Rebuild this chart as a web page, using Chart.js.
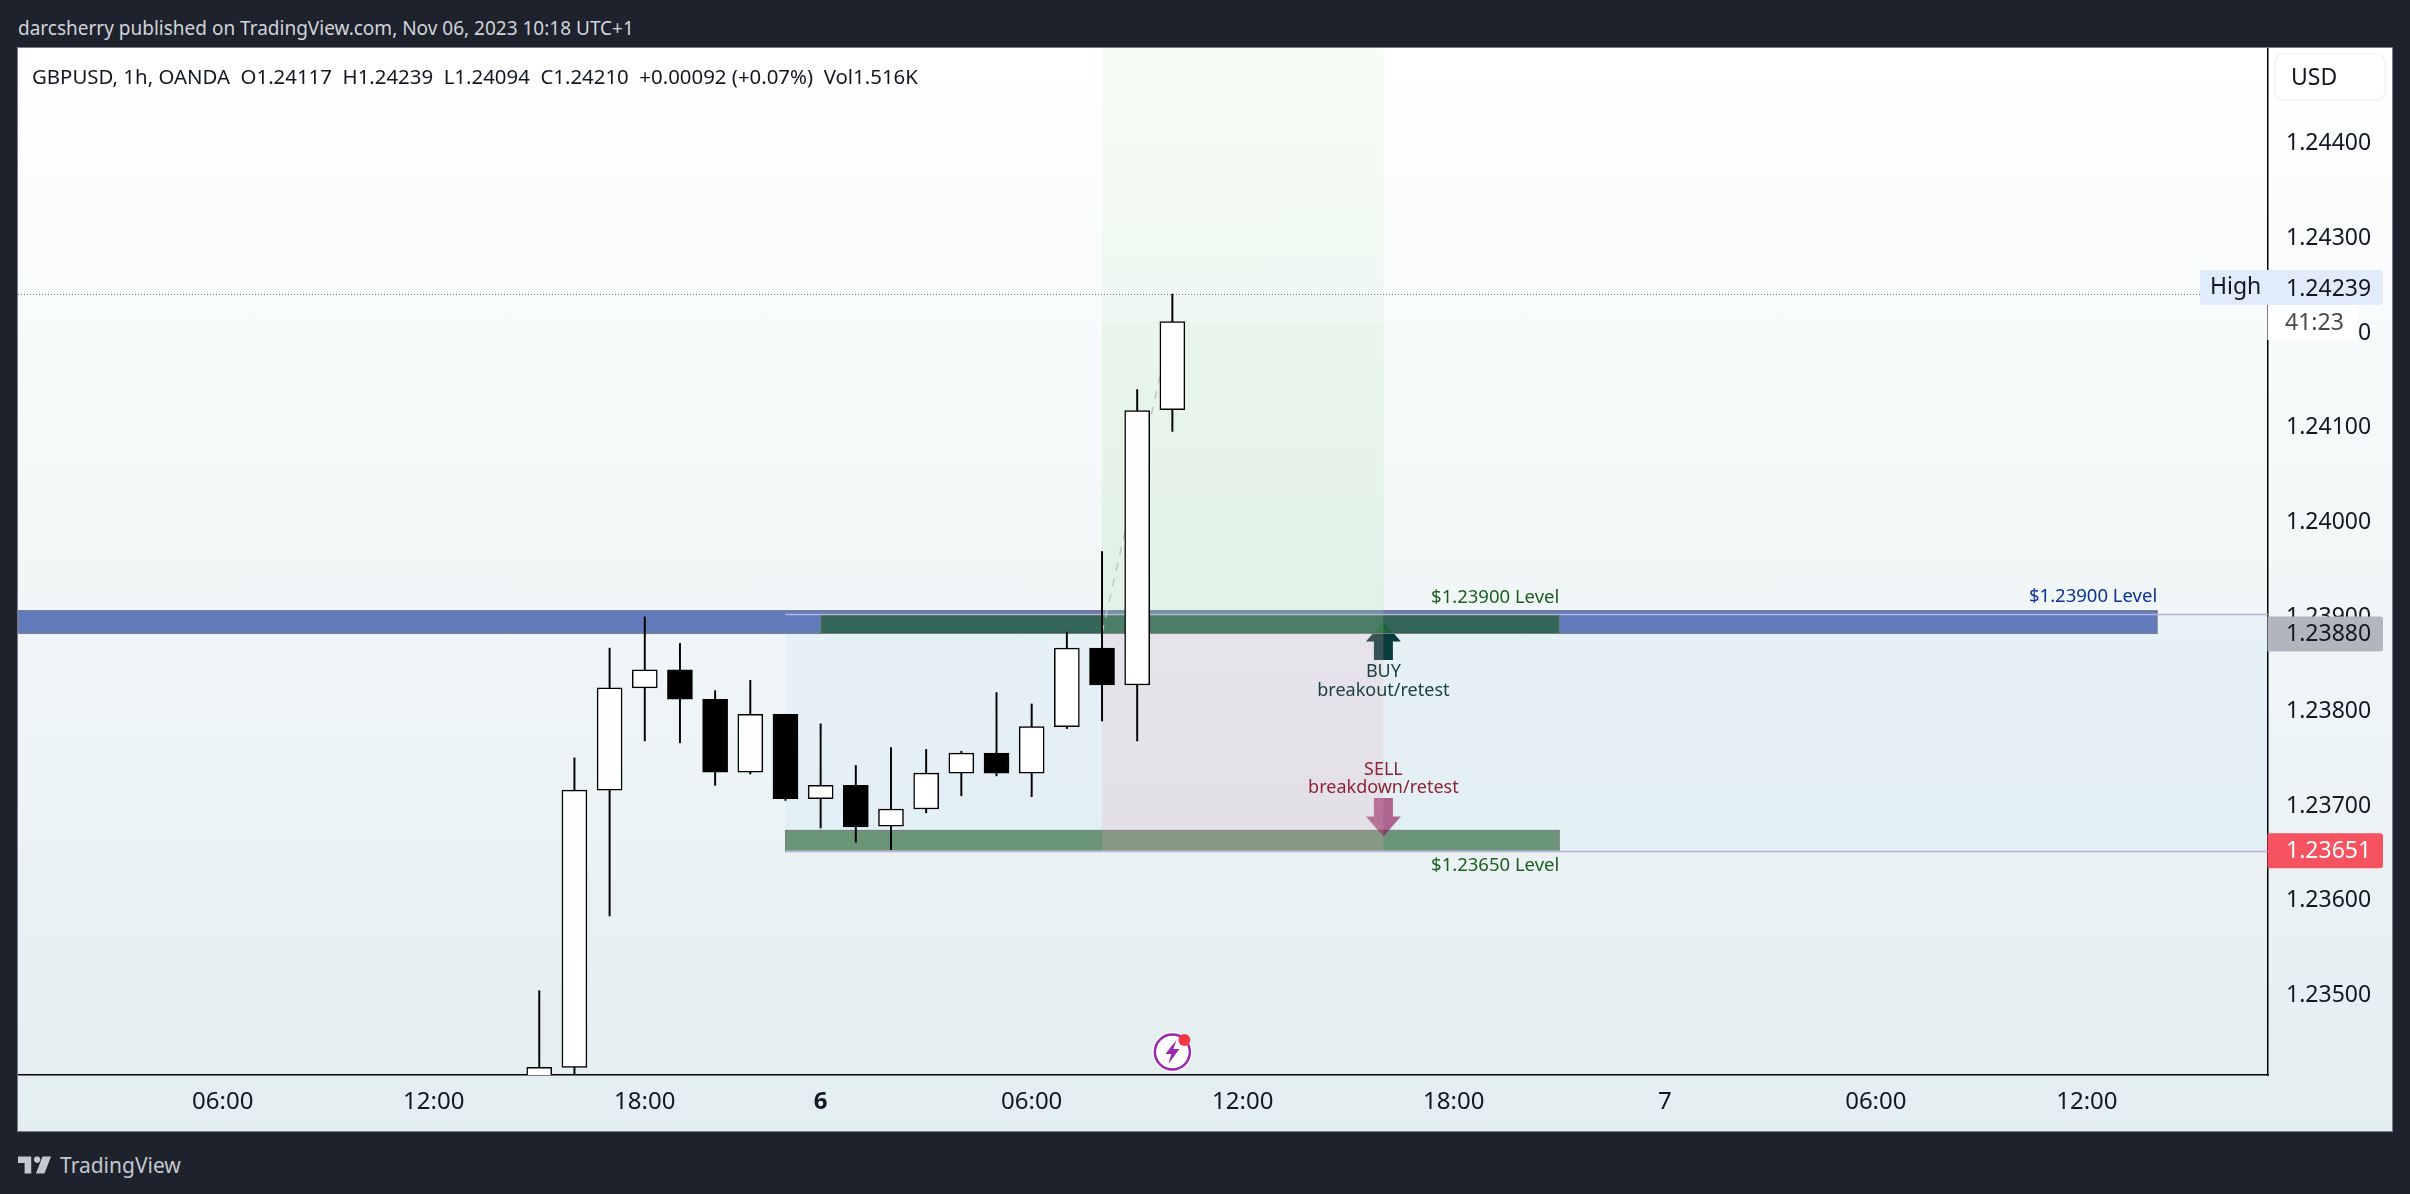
<!DOCTYPE html>
<html>
<head>
<meta charset="utf-8">
<title>GBPUSD 1h</title>
<script src="https://cdn.jsdelivr.net/npm/chart.js@4"></script>
<style>
    html, body { margin: 0; height: 100%; background: #1e222d; overflow: hidden; }
    body { position: relative; width: 2410px; height: 1194px; font-family: "Noto Sans", sans-serif; }
    #published { position: absolute; left: 18px; top: 14px; color: #d1d4dc; font-size: 19px; line-height: 28px; white-space: nowrap; }
    #panel { position: absolute; left: 18px; top: 48px; width: 2374px; height: 1083px;
             background: linear-gradient(180deg, #ffffff 0%, #e3eef0 100%); box-shadow: 0 0 0 1px #7b7e88; }
    #legend { position: absolute; left: 14px; top: 14px; color: #131722; font-size: 20.4px; line-height: 28px; white-space: pre; z-index: 2; }
    canvas { display: block; }
    #brand { position: absolute; left: 18px; top: 1150px; color: #c5c8d0; display: flex; align-items: center; gap: 8px; font-size: 21px; line-height: 30px; }
</style>
</head>
<body>
<div id="published">darcsherry published on TradingView.com, Nov 06, 2023 10:18 UTC+1</div>
<div id="panel">
    <div id="legend">GBPUSD, 1h, OANDA  O1.24117  H1.24239  L1.24094  C1.24210  +0.00092 (+0.07%)  Vol1.516K</div>
    <canvas id="chart" width="2374" height="1083"></canvas>
</div>
<div id="brand">
    <svg width="34" height="18" viewBox="0 0 36 18"><path fill="#c5c8d0" d="M0 0h14v18H7V7H0zM19 0h2.5a3.5 3.5 0 1 1 -2.5 0zM26 0h9l-7 18h-9z"/></svg>
    <span>TradingView</span>
</div>

<script>
// 1h candles, index 0 = Nov 5 15:00
const opens  = [1.23400, 1.23422, 1.23715, 1.23823, 1.23842, 1.23811, 1.23734, 1.23795, 1.23706, 1.23720, 1.23677, 1.23695, 1.23733, 1.23754, 1.23733, 1.23782, 1.23865, 1.23826, 1.24117];
const highs  = [1.23503, 1.23749, 1.23865, 1.23898, 1.23870, 1.23820, 1.23831, 1.23795, 1.23785, 1.23741, 1.23760, 1.23758, 1.23756, 1.23818, 1.23806, 1.23882, 1.23967, 1.24138, 1.24239];
const lows   = [1.23390, 1.23415, 1.23582, 1.23767, 1.23765, 1.23720, 1.23732, 1.23704, 1.23675, 1.23660, 1.23652, 1.23691, 1.23709, 1.23730, 1.23708, 1.23780, 1.23788, 1.23767, 1.24094];
const closes = [1.23422, 1.23715, 1.23823, 1.23842, 1.23811, 1.23734, 1.23795, 1.23706, 1.23720, 1.23676, 1.23695, 1.23733, 1.23754, 1.23733, 1.23782, 1.23865, 1.23826, 1.24116, 1.24210];

const xTickIndexes = [-9, -3, 3, 8, 14, 20, 26, 32, 38, 44];
const xTickLabels  = ["06:00", "12:00", "18:00", "6", "06:00", "12:00", "18:00", "7", "06:00", "12:00"];
const yTickValues  = [1.235, 1.236, 1.237, 1.238, 1.239, 1.240, 1.241, 1.242, 1.243, 1.244];

// drawings, in bar index / price
const levelBlueBand   = [-20, 46, 1.23905, 1.23881];
const levelGreenBand  = [8, 29, 1.23902, 1.23881];
const levelLowerBand  = [7, 29, 1.23673, 1.23651];
const rangeBox        = [7, 60, 1.23901, 1.23651];
const longEntry       = 1.23881;
const longStop        = 1.23651;
const longFilled      = 1.24210;
const longTop         = 1.24600;
const longSpan        = [16, 24];
const buyArrow        = [24, 1.23893];
const sellArrow       = [24, 1.23666];
const highPrice       = 1.24239;
const lastPrice       = 1.23651;
const entryPrice      = 1.23880;

const candleBars = opens.map((o, i) => ({ x: i, y: [o, closes[i]] }));
const wickBars   = highs.map((h, i) => ({ x: i, y: [lows[i], h] }));
const bodyColors = opens.map((o, i) => closes[i] >= o ? "#ffffff" : "#000000");

const LABEL_FONT = '"Noto Sans", sans-serif';

function roundBox(ctx, x, y, w, h, r, fill) {
    ctx.beginPath();
    ctx.roundRect(x, y, w, h, r);
    ctx.fillStyle = fill;
    ctx.fill();
}

// zones under the candles
const zonesPlugin = {
    id: "zones",
    beforeDatasetsDraw(chart) {
        const { ctx, chartArea: area, scales: { x, y } } = chart;
        const rect = (z, fill, line) => {
            const l = Math.max(x.getPixelForValue(z[0]), area.left);
            const r = Math.min(x.getPixelForValue(z[1]), area.right);
            const t = Math.max(y.getPixelForValue(z[2]), area.top);
            const b = Math.min(y.getPixelForValue(z[3]), area.bottom);
            ctx.fillStyle = fill;
            ctx.fillRect(l, t, r - l, b - t);
            if (line) {
                ctx.strokeStyle = line;
                ctx.lineWidth = 1;
                ctx.strokeRect(l, Math.round(t) + 0.5, r - l, Math.round(b - t));
            }
        };
        ctx.save();
        ctx.beginPath();
        ctx.rect(area.left, area.top, area.width, area.height);
        ctx.clip();

        rect(rangeBox, "rgba(33, 150, 243, 0.04)");

        drawArrow(chart, buyArrow, -1, "#0a3b3c");

        rect(levelBlueBand, "#617bbd", "#7b7e88");
        rect(levelGreenBand, "#34665a", "#6f7d78");
        rect(levelLowerBand, "rgba(93, 140, 105, 0.9)", "#7b7e88");

        // buy arrow tip shows through the green band
        ctx.save();
        ctx.beginPath();
        ctx.rect(area.left, y.getPixelForValue(levelGreenBand[2]), area.width,
            y.getPixelForValue(levelGreenBand[3]) - y.getPixelForValue(levelGreenBand[2]));
        ctx.clip();
        drawArrow(chart, buyArrow, -1, "rgba(24, 100, 56, 0.75)");
        ctx.restore();
        drawArrow(chart, sellArrow, 1, "rgba(136, 14, 79, 0.62)");

        // range box edges
        ctx.strokeStyle = "#b9aee0";
        ctx.lineWidth = 1.5;
        [rangeBox[2], rangeBox[3]].forEach(p => {
            const py = Math.round(y.getPixelForValue(p)) + 0.5;
            ctx.beginPath();
            ctx.moveTo(x.getPixelForValue(rangeBox[0]), py);
            ctx.lineTo(area.right, py);
            ctx.stroke();
        });

        // long position tool
        const green = "rgba(172, 222, 170, 0.105)";
        const red = "rgba(235, 172, 178, 0.2)";
        rect([longSpan[0], longSpan[1], longTop, longEntry], green);
        rect([longSpan[0], longSpan[1], longFilled, longEntry], green);
        rect([longSpan[0], longSpan[1], longEntry, longStop], red);

        // entry to last close
        ctx.strokeStyle = "#bfc4c8";
        ctx.lineWidth = 1.5;
        ctx.setLineDash([8, 8]);
        ctx.beginPath();
        ctx.moveTo(x.getPixelForValue(longSpan[0]), y.getPixelForValue(longEntry));
        ctx.lineTo(x.getPixelForValue(opens.length - 1), y.getPixelForValue(longFilled));
        ctx.stroke();

        // high line
        ctx.strokeStyle = "#787b86";
        ctx.lineWidth = 1;
        ctx.setLineDash([1, 2]);
        const hy = Math.round(y.getPixelForValue(highPrice)) + 0.5;
        ctx.beginPath();
        ctx.moveTo(area.left, hy);
        ctx.lineTo(area.right, hy);
        ctx.stroke();
        ctx.setLineDash([]);
        ctx.restore();
    }
};

// dir -1 points up, 1 points down; anchor is the tip
function drawArrow(chart, anchor, dir, color) {
    const { ctx, scales: { x, y } } = chart;
    const tx = x.getPixelForValue(anchor[0]);
    const ty = y.getPixelForValue(anchor[1]);
    const s = -dir;
    ctx.fillStyle = color;
    ctx.beginPath();
    ctx.moveTo(tx, ty);
    ctx.lineTo(tx + 17.5, ty + s * 20);
    ctx.lineTo(tx + 9.5, ty + s * 20);
    ctx.lineTo(tx + 9.5, ty + s * 38.5);
    ctx.lineTo(tx - 9.5, ty + s * 38.5);
    ctx.lineTo(tx - 9.5, ty + s * 20);
    ctx.lineTo(tx - 17.5, ty + s * 20);
    ctx.closePath();
    ctx.fill();
}

// texts, price labels and icon on top
const labelsPlugin = {
    id: "labels",
    afterDraw(chart) {
        const { ctx, chartArea: area, scales: { x, y } } = chart;
        const text = (str, px, py, font, color, align) => {
            ctx.font = font;
            ctx.fillStyle = color;
            ctx.textAlign = align || "center";
            ctx.textBaseline = "middle";
            ctx.fillText(str, px, py);
        };
        const small = `18px ${LABEL_FONT}`;
        const level = `18.5px ${LABEL_FONT}`;
        const tag = `23px ${LABEL_FONT}`;
        const buyX = x.getPixelForValue(buyArrow[0]);
        const right = area.right;
        ctx.save();

        const levelEnd = x.getPixelForValue(levelGreenBand[1]);
        text("$1.23900 Level", levelEnd, y.getPixelForValue(levelGreenBand[2]) - 15, level, "#1b5e20", "right");
        text("$1.23650 Level", levelEnd, y.getPixelForValue(levelLowerBand[3]) + 15, level, "#1b5e20", "right");
        text("$1.23900 Level", x.getPixelForValue(levelBlueBand[1]), y.getPixelForValue(levelBlueBand[2]) - 14, level, "#0c3299", "right");

        const buyY = y.getPixelForValue(buyArrow[1]);
        text("BUY", buyX, buyY + 50, small, "#1a4040");
        text("breakout/retest", buyX, buyY + 69, small, "#1a4040");
        const sellY = y.getPixelForValue(sellArrow[1]);
        text("SELL", buyX, sellY - 67, small, "#8e2238");
        text("breakdown/retest", buyX, sellY - 49, small, "#8e2238");

        // news icon at the last bar
        const ix = x.getPixelForValue(opens.length - 1);
        const iy = area.bottom - 23;
        ctx.beginPath();
        ctx.arc(ix, iy, 20, 0, Math.PI * 2);
        ctx.fillStyle = "#ffffff";
        ctx.fill();
        ctx.beginPath();
        ctx.arc(ix, iy, 17.5, 0, Math.PI * 2);
        ctx.strokeStyle = "#9c27b0";
        ctx.lineWidth = 2.5;
        ctx.stroke();
        ctx.fillStyle = "#9c27b0";
        ctx.beginPath();
        [[4, -12], [-7, 2], [-1, 2], [-4, 12], [7, -3], [1, -3]].forEach((p, i) => {
            if (i === 0) ctx.moveTo(ix + p[0], iy + p[1]);
            else ctx.lineTo(ix + p[0], iy + p[1]);
        });
        ctx.closePath();
        ctx.fill();
        ctx.beginPath();
        ctx.arc(ix + 12, iy - 12, 6, 0, Math.PI * 2);
        ctx.fillStyle = "#f23645";
        ctx.fill();

        // USD button
        roundBox(ctx, right + 7, 6, 110, 46, 8, "#ffffff");
        ctx.strokeStyle = "#f0f3fa";
        ctx.lineWidth = 1.5;
        ctx.stroke();
        text("USD", right + 23, 30, tag, "#131722", "left");

        // countdown covers the 1.24200 tick
        const hy = y.getPixelForValue(highPrice);
        ctx.fillStyle = "#ffffff";
        ctx.fillRect(right - 0.5, hy + 11, 89.5, 35);
        text("41:23", right + 17, hy + 29, tag, "#4a4a4a", "left");

        // high tag
        roundBox(ctx, right - 68, hy - 24, 183, 35, 3, "#e1ecfb");
        text("High", right - 58, hy - 7, tag, "#131722", "left");
        text(highPrice.toFixed(5), right + 18, hy - 5, tag, "#131722", "left");

        // entry price and last price tags
        const ey = y.getPixelForValue(entryPrice);
        roundBox(ctx, right - 0.5, ey - 17.5, 115.5, 35, [0, 3, 3, 0], "#b2b5be");
        text(entryPrice.toFixed(5), right + 18, ey + 1, tag, "#131722", "left");
        const ly = y.getPixelForValue(lastPrice);
        roundBox(ctx, right - 0.5, ly - 17.5, 115.5, 35, [0, 3, 3, 0], "#f7525f");
        text(lastPrice.toFixed(5), right + 18, ly + 1, tag, "#ffffff", "left");
        ctx.restore();
    }
};

new Chart(document.getElementById("chart"), {
    type: "bar",
    data: {
        datasets: [
            {
                label: "body",
                data: candleBars,
                order: 1,
                grouped: false,
                barThickness: 25,
                backgroundColor: bodyColors,
                borderColor: "#000000",
                borderWidth: 1.5,
                borderSkipped: false
            },
            {
                label: "wick",
                data: wickBars,
                order: 2,
                grouped: false,
                barThickness: 1.3,
                backgroundColor: "#000000",
                borderWidth: 0
            }
        ]
    },
    options: {
        responsive: false,
        animation: false,
        devicePixelRatio: 1,
        layout: { padding: 0 },
        plugins: {
            legend: { display: false },
            title: { display: false },
            tooltip: { enabled: false }
        },
        scales: {
            x: {
                type: "linear",
                offset: false,
                min: -14.82,
                max: 49.15,
                grid: { display: false, drawTicks: false },
                border: { color: "#000000", width: 1.5 },
                afterFit: s => { s.height = 56; s.paddingLeft = 0; s.paddingRight = 0; },
                afterBuildTicks: s => { s.ticks = xTickIndexes.map(v => ({ value: v })); },
                ticks: {
                    autoSkip: false,
                    maxRotation: 0,
                    padding: 13,
                    color: "#131722",
                    font: ctx => ({
                        family: LABEL_FONT,
                        size: 24,
                        weight: xTickLabels[ctx.index] === "6" ? "bold" : "normal"
                    }),
                    callback: (v, i) => xTickLabels[i]
                }
            },
            y: {
                type: "linear",
                position: "right",
                min: 1.23414,
                max: 1.24499,
                grid: { display: false, drawTicks: false },
                border: { color: "#000000", width: 1.5 },
                afterFit: s => { s.width = 124; s.paddingTop = 0; s.paddingBottom = 0; },
                afterBuildTicks: s => { s.ticks = yTickValues.map(v => ({ value: v })); },
                ticks: {
                    autoSkip: false,
                    padding: 18,
                    labelOffset: 2,
                    color: "#131722",
                    font: { family: LABEL_FONT, size: 23 },
                    callback: v => v.toFixed(5)
                }
            }
        }
    },
    plugins: [zonesPlugin, labelsPlugin]
});
</script>
</body>
</html>
